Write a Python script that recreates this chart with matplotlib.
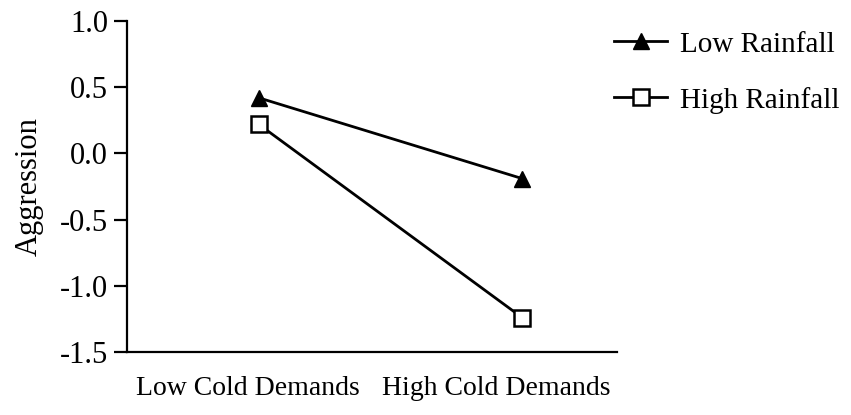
import numpy as np
import matplotlib
matplotlib.use("Agg")
import matplotlib.pyplot as plt

# ---- data ----
categories = ["Low Cold Demands", "High Cold Demands"]
low_rainfall = [0.42, -0.19]
high_rainfall = [0.22, -1.24]
y_ticks = [-1.5, -1.0, -0.5, 0.0, 0.5, 1.0]

plt.rcParams['font.family'] = ['Liberation Serif', 'DejaVu Serif']
plt.rcParams['font.size'] = 21

fig = plt.figure(figsize=(8.51, 4.15), dpi=100)
ax = fig.add_axes([0.1492, 0.1518, 0.5758, 0.7976])

x = np.arange(len(categories))
ax.plot(x, low_rainfall, color='black', lw=2, marker='^', ms=12,
        mfc='black', mec='black', label='Low Rainfall')
ax.plot(x, high_rainfall, color='black', lw=2, marker='s', ms=11,
        mfc='white', mec='black', mew=1.8, label='High Rainfall')

ax.set_ylim(-1.5, 1.0)
ax.set_xlim(-0.5, 1.36)
ax.set_yticks(y_ticks)
ax.set_yticklabels([f"{v:.1f}" for v in y_ticks], fontsize=22)
ax.tick_params(axis='y', length=9.5, width=1.6, pad=4, direction='out')

# category labels sit a bit left of the points in the original
ax.set_xticks(x - np.array([0.04, 0.1]))
ax.set_xticklabels(categories, fontsize=20)
ax.tick_params(axis='x', length=0, pad=17)

for s in ['top', 'right']:
    ax.spines[s].set_visible(False)
for s in ['left', 'bottom']:
    ax.spines[s].set_linewidth(1.6)

ax.set_ylabel('Aggression', fontsize=22, labelpad=12)

fig.legend(loc='upper left', bbox_to_anchor=(0.722, 0.925), frameon=False,
           handlelength=1.8, handletextpad=0.45, labelspacing=1.0,
           borderpad=0, borderaxespad=0, fontsize=21)

fig.savefig('out.png', dpi=100)
